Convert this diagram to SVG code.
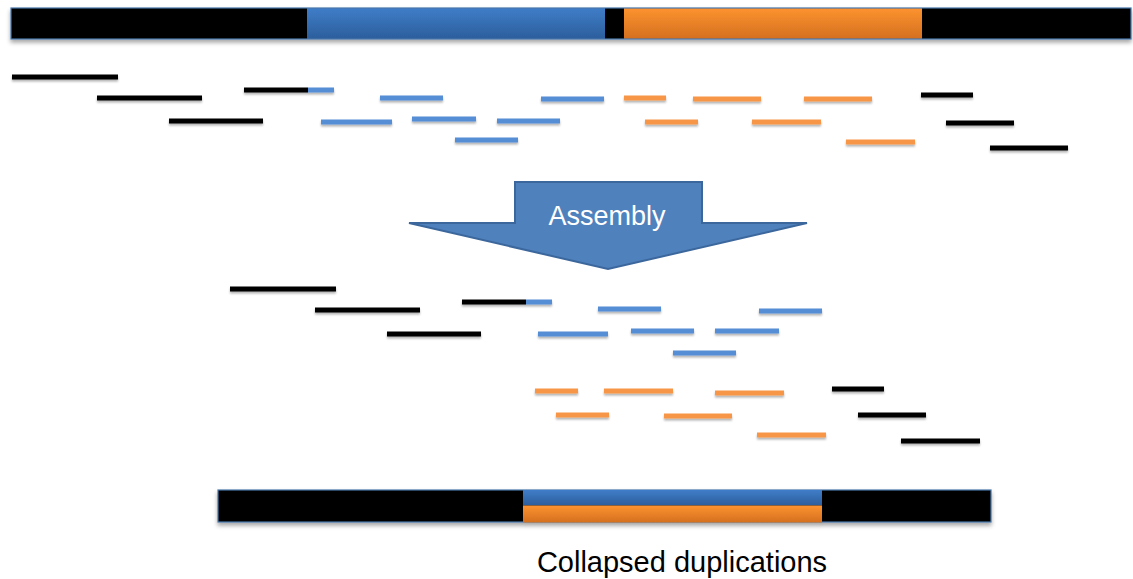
<svg xmlns="http://www.w3.org/2000/svg" width="1133" height="579" viewBox="0 0 1133 579">
<defs>
<linearGradient id="gBlue" x1="0" y1="0" x2="0" y2="1"><stop offset="0" stop-color="#3f7dc8"/><stop offset="1" stop-color="#2c5e9c"/></linearGradient>
<linearGradient id="gOrange" x1="0" y1="0" x2="0" y2="1"><stop offset="0" stop-color="#fd932f"/><stop offset="1" stop-color="#d46f1f"/></linearGradient>
<filter id="sh" x="-5%" y="-50%" width="110%" height="250%"><feDropShadow dx="0" dy="3" stdDeviation="2" flood-color="#000" flood-opacity="0.35"/></filter>
<filter id="shr" x="-10%" y="-100%" width="120%" height="400%"><feDropShadow dx="0" dy="2" stdDeviation="1.2" flood-color="#000" flood-opacity="0.3"/></filter>
</defs>
<style>
.k{fill:#000}
.b{fill:#558ed5}
.o{fill:#f79646}
.frame{fill:none;stroke:#4a76ab;stroke-width:1.2}
.lbl{font-family:"Liberation Sans",Arial,sans-serif;text-anchor:middle}
</style>
<rect width="1133" height="579" fill="#fff"/>

<g id="genome" filter="url(#sh)">
<rect x="11" y="8" width="1120" height="31" class="k"/>
<rect x="307" y="8" width="298" height="31" fill="url(#gBlue)"/>
<rect x="624" y="8" width="298" height="31" fill="url(#gOrange)"/>
<rect x="11" y="8" width="1120" height="31" class="frame"/>
</g>

<g id="reads-input" filter="url(#shr)">
<rect x="12" y="74.5" width="106" height="5" class="k"/>
<rect x="97" y="95.5" width="105" height="5" class="k"/>
<rect x="244" y="87.5" width="64" height="5" class="k"/>
<rect x="308" y="87.5" width="26" height="5" class="b"/>
<rect x="169" y="118.5" width="94" height="5" class="k"/>
<rect x="321" y="119.5" width="71" height="5" class="b"/>
<rect x="380" y="95.5" width="63" height="5" class="b"/>
<rect x="541" y="96.5" width="63" height="5" class="b"/>
<rect x="624" y="95.5" width="42" height="5" class="o"/>
<rect x="693" y="96.5" width="68" height="5" class="o"/>
<rect x="412" y="116.5" width="64" height="5" class="b"/>
<rect x="497" y="118.5" width="63" height="5" class="b"/>
<rect x="455" y="137.5" width="63" height="5" class="b"/>
<rect x="645" y="119.5" width="53" height="5" class="o"/>
<rect x="752" y="119.5" width="69" height="5" class="o"/>
<rect x="804" y="96.5" width="68" height="5" class="o"/>
<rect x="921" y="92.5" width="52" height="5" class="k"/>
<rect x="946" y="120.5" width="68" height="5" class="k"/>
<rect x="846" y="139.5" width="69" height="5" class="o"/>
<rect x="990" y="145.5" width="78" height="5" class="k"/>
</g>

<g id="assembly-arrow">
<polygon points="515,182 702,182 702,223 807,223 608,269 409,223 515,223" fill="#4f81bd" stroke="#3b679c" stroke-width="2" stroke-linejoin="miter"/>
<text x="607" y="225" class="lbl" font-size="27" fill="#ffffff">Assembly</text>
</g>

<g id="reads-assembled" filter="url(#shr)">
<rect x="230" y="286.5" width="106" height="5" class="k"/>
<rect x="315" y="307.5" width="105" height="5" class="k"/>
<rect x="462" y="299.5" width="64" height="5" class="k"/>
<rect x="526" y="299.5" width="26" height="5" class="b"/>
<rect x="598" y="306.5" width="63" height="5" class="b"/>
<rect x="387" y="331.5" width="94" height="5" class="k"/>
<rect x="538" y="331.5" width="70" height="5" class="b"/>
<rect x="759" y="308.5" width="63" height="5" class="b"/>
<rect x="631" y="328.5" width="63" height="5" class="b"/>
<rect x="715" y="328.5" width="64" height="5" class="b"/>
<rect x="673" y="350.5" width="63" height="5" class="b"/>
<rect x="535" y="388.5" width="43" height="5" class="o"/>
<rect x="604" y="388.5" width="69" height="5" class="o"/>
<rect x="556" y="412.5" width="53" height="5" class="o"/>
<rect x="715" y="390.5" width="69" height="5" class="o"/>
<rect x="664" y="413.5" width="68" height="5" class="o"/>
<rect x="757" y="432.5" width="69" height="5" class="o"/>
<rect x="832" y="386.5" width="52" height="5" class="k"/>
<rect x="858" y="412.5" width="68" height="5" class="k"/>
<rect x="901" y="438.5" width="79" height="5" class="k"/>
</g>

<g id="contig" filter="url(#sh)">
<rect x="218" y="490" width="773" height="32" class="k"/>
<rect x="218" y="490" width="773" height="32" class="frame"/>
<rect x="523" y="490" width="299" height="15.5" fill="url(#gBlue)"/>
<rect x="523" y="505.5" width="299" height="17" fill="url(#gOrange)"/>
</g>

<g id="label">
<text x="682" y="572" class="lbl" font-size="29" fill="#000">Collapsed duplications</text>
</g>
</svg>
